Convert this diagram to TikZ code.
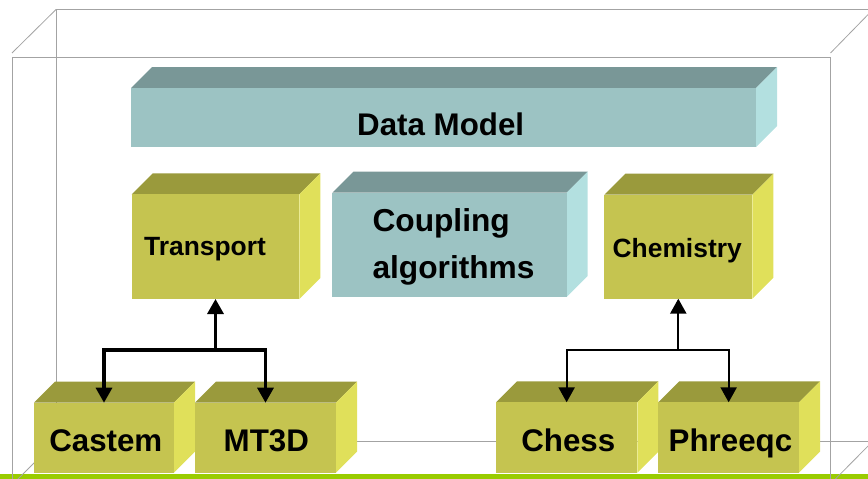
\documentclass[tikz,border=0pt]{standalone}
\usepackage{fontspec}
\setmainfont{Liberation Sans}
\usetikzlibrary{arrows.meta,fit}
\definecolor{tealF}{HTML}{9CC3C3}
\definecolor{tealT}{HTML}{799797}
\definecolor{tealS}{HTML}{B3E0E0}
\definecolor{oliveF}{HTML}{C5C450}
\definecolor{oliveT}{HTML}{9A9A3C}
\definecolor{oliveS}{HTML}{E0E05A}
\definecolor{frameG}{HTML}{A3A3A3}
\definecolor{barG}{HTML}{99CC00}
\newcommand{\cuboidbox}[8]{%
  \fill[#7] (#2,#3) -- (#2+21,#3-21) -- (#4+21,#3-21) -- (#4,#3) -- cycle;
  \fill[#8] (#4,#3) -- (#4+21,#3-21) -- (#4+21,#5-21) -- (#4,#5) -- cycle;
  \node[fit={(#2,#3) (#4,#5)}, inner sep=0pt, outer sep=0pt, fill=#6] (#1) {};
}
\tikzset{
  frameline/.style={draw=frameG, line width=0.8pt},
  arrthick/.style={line width=3.3pt, -{Triangle[width=16pt,length=15pt]}},
  arrthin/.style={line width=2.3pt, -{Triangle[width=16pt,length=15pt]}},
  bigtxt/.style={font=\fontsize{31.3}{37}\selectfont\bfseries, inner sep=0pt, anchor=base},
  midtxt/.style={font=\fontsize{26.4}{31}\selectfont\bfseries, inner sep=0pt, anchor=base},
}
\begin{document}
\begin{tikzpicture}[x=1pt,y=-1pt]
\useasboundingbox (0,0) rectangle (868,479);
\clip (0,0) rectangle (868,479);
% green bar
\fill[barG] (0,473.5) rectangle (868,479);
% wireframe: back face
\draw[frameline] (56,9.5) -- (873,9.5);
\draw[frameline] (56,9.5) -- (56,441);
\draw[frameline] (56,441) -- (873,441);
% front face
\draw[frameline] (12,484) -- (12,57) -- (830.5,57) -- (830.5,484);
% depth edges
\draw[frameline] (12,53) -- (56,9.5);
\draw[frameline] (830.5,53) -- (873,9.5);
\draw[frameline] (13,484) -- (56,441);
\draw[frameline] (830.5,484) -- (873,441);
% boxes
\cuboidbox{dm}{131}{88}{756}{147}{tealF}{tealT}{tealS}
\cuboidbox{tr}{131.7}{194.3}{299.3}{299}{oliveF}{oliveT}{oliveS}
\cuboidbox{cp}{332.3}{192.7}{566.7}{297}{tealF}{tealT}{tealS}
\cuboidbox{ch}{604.3}{194.7}{752.3}{298.7}{oliveF}{oliveT}{oliveS}
\cuboidbox{ca}{34}{402.7}{174}{472.7}{oliveF}{oliveT}{oliveS}
\cuboidbox{mt}{195}{402.7}{336}{472.7}{oliveF}{oliveT}{oliveS}
\cuboidbox{cs}{496}{402.3}{637.3}{472.7}{oliveF}{oliveT}{oliveS}
\cuboidbox{ph}{658.3}{402.3}{799}{472.7}{oliveF}{oliveT}{oliveS}
% texts
\node[bigtxt] (dmt) at (440.7,135) {Data Model};
\node[font=\fontsize{31.7}{46.5}\selectfont\bfseries, inner sep=0pt, anchor=west, align=left] (cpt) at (372.3,246.7) {Coupling\\algorithms};
\node[midtxt] (trt) at (205,255) {Transport};
\node[midtxt] (cht) at (677.2,257.3) {Chemistry};
\node[bigtxt] (cat) at (105.8,451.7) {Castem};
\node[bigtxt] (mtt) at (266.3,451.7) {MT3D};
\node[bigtxt] (cst) at (568.3,451) {Chess};
\node[bigtxt] (pht) at (730.5,451) {Phreeqc};
% connectors
\coordinate (trj) at (215.5,350);
\draw[arrthick] (trj) -- (tr.south);
\draw[arrthick] (trj) -| (ca.north);
\draw[arrthick] (trj) -| (mt.north);
\coordinate (chj) at (678.3,350);
\draw[arrthin] (chj) -- (ch.south);
\draw[arrthin] (chj) -| (cs.north);
\draw[arrthin] (chj) -| (ph.north);
\end{tikzpicture}
\end{document}
